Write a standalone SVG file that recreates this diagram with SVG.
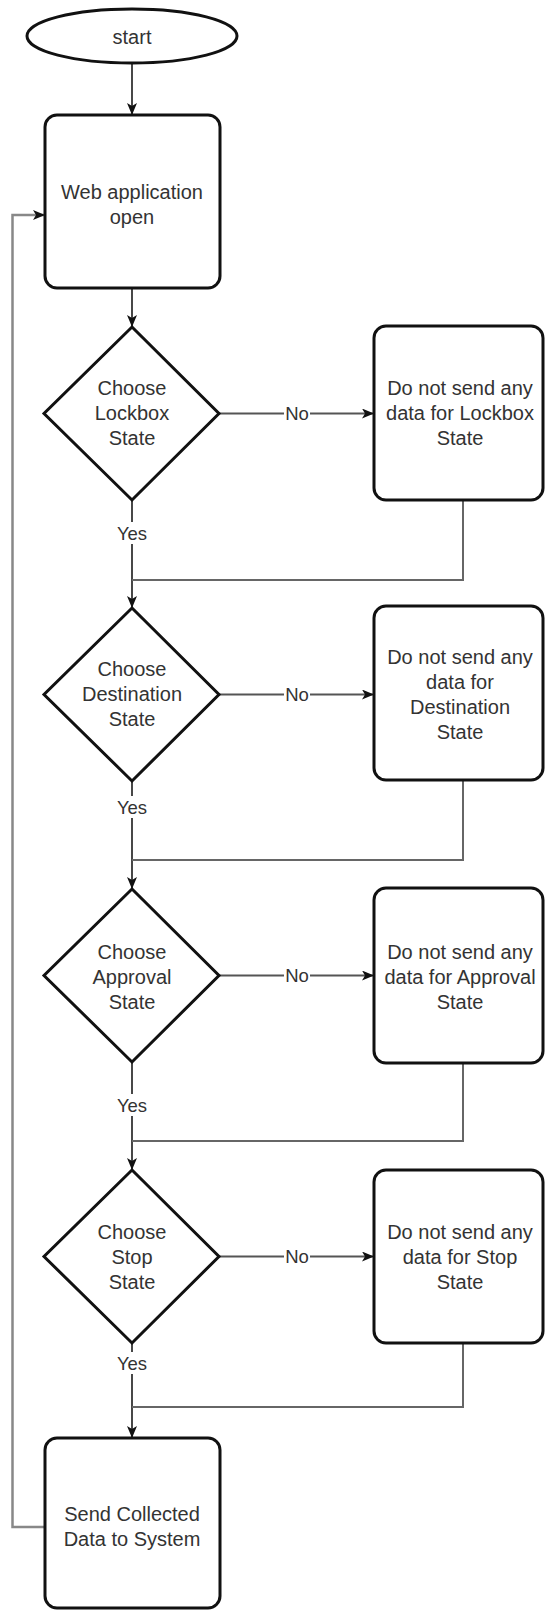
<svg xmlns="http://www.w3.org/2000/svg" width="545" height="1612" viewBox="0 0 545 1612">
  <style>
    .shape { fill: #ffffff; stroke: #111111; stroke-width: 3; }
    .label { font-family: "Liberation Sans", Arial, sans-serif; font-size: 20px; fill: #333333; text-anchor: middle; dominant-baseline: central; }
    .edge-label { font-family: "Liberation Sans", Arial, sans-serif; font-size: 18.5px; fill: #333333; text-anchor: middle; dominant-baseline: central; }
    .flow { fill: none; stroke: #1a1a1a; stroke-width: 1.6; }
    .side { fill: none; stroke: #555555; stroke-width: 2; }
    .merge { fill: none; stroke: #666666; stroke-width: 2; }
    .loop { fill: none; stroke: #888888; stroke-width: 2.5; }
    .tag-bg { fill: #ffffff; stroke: none; }
  </style>
  <defs>
    <marker id="arrow" markerUnits="userSpaceOnUse" markerWidth="12" markerHeight="10" refX="12" refY="5" orient="auto">
      <path d="M0,0 L12,5 L0,10 L3,5 z" fill="#111111"/>
    </marker>
  </defs>
  <rect width="545" height="1612" fill="#ffffff"/>

  <!-- connectors -->
  <g id="connectors">
    <!-- main spine -->
    <line class="flow" x1="132" y1="63" x2="132" y2="115" marker-end="url(#arrow)"/>
    <line class="flow" x1="132" y1="288" x2="132" y2="327" marker-end="url(#arrow)"/>
    <line class="flow" x1="132" y1="500" x2="132" y2="608" marker-end="url(#arrow)"/>
    <line class="flow" x1="132" y1="781" x2="132" y2="889" marker-end="url(#arrow)"/>
    <line class="flow" x1="132" y1="1062" x2="132" y2="1170" marker-end="url(#arrow)"/>
    <line class="flow" x1="132" y1="1343" x2="132" y2="1438" marker-end="url(#arrow)"/>

    <!-- "No" branches -->
    <line class="side" x1="219" y1="413.5" x2="374" y2="413.5" marker-end="url(#arrow)"/>
    <line class="side" x1="219" y1="694.5" x2="374" y2="694.5" marker-end="url(#arrow)"/>
    <line class="side" x1="219" y1="975.5" x2="374" y2="975.5" marker-end="url(#arrow)"/>
    <line class="side" x1="219" y1="1256.5" x2="374" y2="1256.5" marker-end="url(#arrow)"/>

    <!-- rejoin paths back to the spine -->
    <polyline class="merge" points="463,500 463,580 132,580"/>
    <polyline class="merge" points="463,781 463,860 132,860"/>
    <polyline class="merge" points="463,1063 463,1141 132,1141"/>
    <polyline class="merge" points="463,1343 463,1407 132,1407"/>

    <!-- loop back to the start of the app -->
    <polyline class="loop" points="45,1527 12.5,1527 12.5,215 45,215" marker-end="url(#arrow)"/>

    <!-- edge labels -->
    <rect class="tag-bg" x="284" y="403" width="26" height="21"/>
    <text class="edge-label" x="297" y="413.5">No</text>
    <rect class="tag-bg" x="284" y="684" width="26" height="21"/>
    <text class="edge-label" x="297" y="694.5">No</text>
    <rect class="tag-bg" x="284" y="965" width="26" height="21"/>
    <text class="edge-label" x="297" y="975.5">No</text>
    <rect class="tag-bg" x="284" y="1246" width="26" height="21"/>
    <text class="edge-label" x="297" y="1256.5">No</text>

    <rect class="tag-bg" x="115" y="522" width="34" height="22"/>
    <text class="edge-label" x="132" y="533">Yes</text>
    <rect class="tag-bg" x="115" y="796" width="34" height="22"/>
    <text class="edge-label" x="132" y="807">Yes</text>
    <rect class="tag-bg" x="115" y="1094" width="34" height="22"/>
    <text class="edge-label" x="132" y="1105">Yes</text>
    <rect class="tag-bg" x="115" y="1352" width="34" height="22"/>
    <text class="edge-label" x="132" y="1363">Yes</text>
  </g>

  <!-- nodes -->
  <g id="start">
    <ellipse class="shape" cx="132" cy="36" rx="105" ry="27"/>
    <text class="label" x="132" y="37">start</text>
  </g>

  <g id="web-app-open">
    <rect class="shape" x="45" y="115" width="175" height="173" rx="12"/>
    <text class="label" x="132" y="192">Web application</text>
    <text class="label" x="132" y="217">open</text>
  </g>

  <g id="choose-lockbox">
    <polygon class="shape" points="132,327 219,413.5 132,500 44,413.5"/>
    <text class="label" x="132" y="388">Choose</text>
    <text class="label" x="132" y="413">Lockbox</text>
    <text class="label" x="132" y="438">State</text>
  </g>

  <g id="skip-lockbox">
    <rect class="shape" x="374" y="326" width="169" height="174" rx="12"/>
    <text class="label" x="460" y="388">Do not send any</text>
    <text class="label" x="460" y="413">data for Lockbox</text>
    <text class="label" x="460" y="438">State</text>
  </g>

  <g id="choose-destination">
    <polygon class="shape" points="132,608 219,694.5 132,781 44,694.5"/>
    <text class="label" x="132" y="669">Choose</text>
    <text class="label" x="132" y="694">Destination</text>
    <text class="label" x="132" y="719">State</text>
  </g>

  <g id="skip-destination">
    <rect class="shape" x="374" y="606" width="169" height="174" rx="12"/>
    <text class="label" x="460" y="657">Do not send any</text>
    <text class="label" x="460" y="682">data for</text>
    <text class="label" x="460" y="707">Destination</text>
    <text class="label" x="460" y="732">State</text>
  </g>

  <g id="choose-approval">
    <polygon class="shape" points="132,889 219,975.5 132,1062 44,975.5"/>
    <text class="label" x="132" y="952">Choose</text>
    <text class="label" x="132" y="977">Approval</text>
    <text class="label" x="132" y="1002">State</text>
  </g>

  <g id="skip-approval">
    <rect class="shape" x="374" y="888" width="169" height="175" rx="12"/>
    <text class="label" x="460" y="952">Do not send any</text>
    <text class="label" x="460" y="977">data for Approval</text>
    <text class="label" x="460" y="1002">State</text>
  </g>

  <g id="choose-stop">
    <polygon class="shape" points="132,1170 219,1256.5 132,1343 44,1256.5"/>
    <text class="label" x="132" y="1232">Choose</text>
    <text class="label" x="132" y="1257">Stop</text>
    <text class="label" x="132" y="1282">State</text>
  </g>

  <g id="skip-stop">
    <rect class="shape" x="374" y="1170" width="169" height="173" rx="12"/>
    <text class="label" x="460" y="1232">Do not send any</text>
    <text class="label" x="460" y="1257">data for Stop</text>
    <text class="label" x="460" y="1282">State</text>
  </g>

  <g id="send-collected">
    <rect class="shape" x="45" y="1438" width="175" height="170" rx="12"/>
    <text class="label" x="132" y="1514">Send Collected</text>
    <text class="label" x="132" y="1539">Data to System</text>
  </g>
</svg>
